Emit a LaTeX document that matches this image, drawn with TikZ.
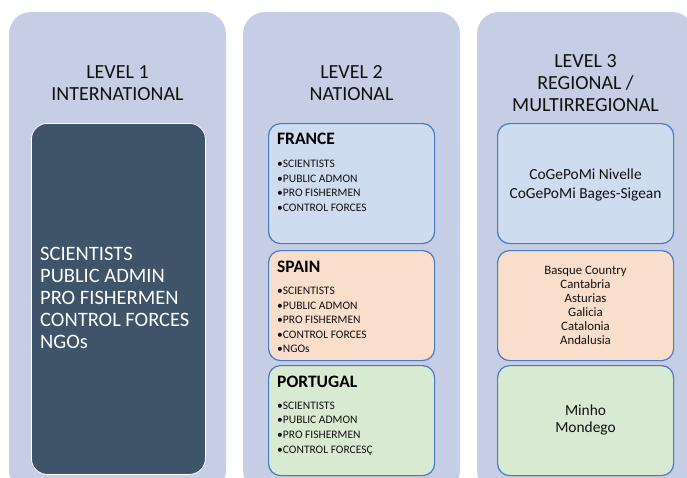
\documentclass[tikz,border=0pt]{standalone}
\usepackage{fontspec}
\setmainfont{Carlito}
\definecolor{panelc}{HTML}{C5CEE4}
\definecolor{darkc}{HTML}{3F5369}
\definecolor{edgec}{HTML}{4A7AC4}
\definecolor{frc}{HTML}{CFDBEE}
\definecolor{spc}{HTML}{F9DECC}
\definecolor{ptc}{HTML}{D9EAD3}
\definecolor{textc}{HTML}{111111}
\begin{document}
\begin{tikzpicture}[x=1pt,y=-1pt,
  panelbox/.style={fill=panelc, draw=none, rounded corners=22pt, anchor=north west,
    inner sep=0pt, outer sep=0pt, minimum width=217pt, minimum height=480pt},
  darkbox/.style={fill=darkc, draw=white, line width=0.8pt, rounded corners=16pt,
    anchor=north west, inner sep=0pt, minimum width=174pt, minimum height=351pt},
  cbox/.style={draw=edgec, line width=1.2pt, rounded corners=12pt, anchor=north west,
    inner sep=0pt, minimum width=166pt, minimum height=110pt},
  leveltxt/.style={anchor=base, align=center, inner sep=0pt, text=textc,
    font=\fontsize{20}{22}\selectfont},
  bigwhite/.style={anchor=base west, align=left, inner sep=0pt, text=white,
    font=\fontsize{20.5}{22.2}\selectfont},
  ctitle/.style={anchor=base west, inner sep=0pt, text=black,
    font=\bfseries\fontsize{17.5}{20}\selectfont},
  bullets/.style={anchor=base west, align=left, inner sep=0pt, text=textc,
    font=\fontsize{11.5}{14.7}\selectfont},
  regtxt/.style={anchor=base, align=center, inner sep=0pt, text=textc}
]
\useasboundingbox (0,0) rectangle (687,477);
\clip (0,0) rectangle (687,477);

% outer panels
\node[panelbox] (p1) at (9,12) {};
\node[panelbox] (p2) at (243,12) {};
\node[panelbox] (p3) at (477,12) {};

% titles (base anchor = last line's baseline)
\node[leveltxt] (t1) at (117.5,100) {LEVEL 1\\INTERNATIONAL};
\node[leveltxt] (t2) at (351.5,100.5) {LEVEL 2\\NATIONAL};
\node[leveltxt] (t3) at (585.5,111) {LEVEL 3\\REGIONAL /\\MULTIRREGIONAL};

% level 1
\node[darkbox] (dk) at (31,123) {};
\node[bigwhite] (dktxt) at (40,348.8) {SCIENTISTS\\PUBLIC ADMIN\\PRO FISHERMEN\\CONTROL FORCES\\NGOs};

% level 2
\node[cbox, fill=frc, minimum height=120pt] (fr) at (268,123) {};
\node[cbox, fill=spc] (sp) at (268,250) {};
\node[cbox, fill=ptc] (pt) at (268,365) {};

\node[ctitle] (frt) at (277,144.6) {FRANCE};
\node[bullets] (frb) at (277,211.4) {•SCIENTISTS\\•PUBLIC ADMON\\•PRO FISHERMEN\\•CONTROL FORCES};
\node[ctitle] (spt) at (277,272) {SPAIN};
\node[bullets, font=\fontsize{11.5}{14.5}\selectfont] (spb) at (277,352.5) {•SCIENTISTS\\•PUBLIC ADMON\\•PRO FISHERMEN\\•CONTROL FORCES\\•NGOs};
\node[ctitle] (ptt) at (277,387.5) {PORTUGAL};
\node[bullets] (ptb) at (277,453.1) {•SCIENTISTS\\•PUBLIC ADMON\\•PRO FISHERMEN\\•CONTROL FORCESÇ};

% level 3
\node[cbox, fill=frc, minimum width=176pt, minimum height=120pt] (r1) at (497,123) {};
\node[cbox, fill=spc, minimum width=176pt] (r2) at (497,250) {};
\node[cbox, fill=ptc, minimum width=176pt] (r3) at (497,365) {};

\node[regtxt, font=\fontsize{15.4}{19.3}\selectfont] (r1t) at (585.5,198.3) {CoGePoMi Nivelle\\CoGePoMi Bages-Sigean};
\node[regtxt, font=\fontsize{12.8}{14}\selectfont] (r2t) at (585.5,344) {Basque Country\\Cantabria\\Asturias\\Galicia\\Catalonia\\Andalusia};
\node[regtxt, font=\fontsize{15.4}{17}\selectfont] (r3t) at (585.5,432.7) {Minho\\Mondego};
\end{tikzpicture}
\end{document}
